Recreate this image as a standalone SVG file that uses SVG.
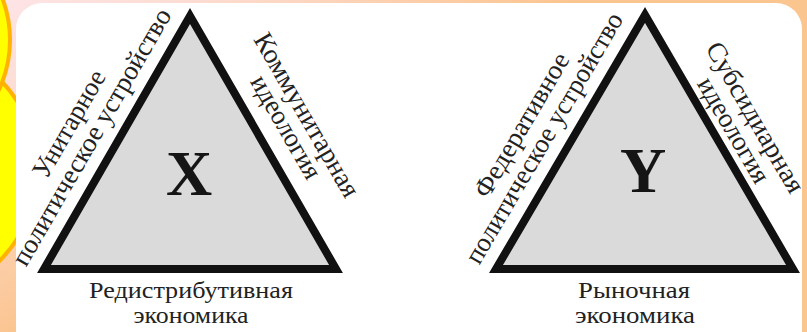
<svg xmlns="http://www.w3.org/2000/svg" width="807" height="332" viewBox="0 0 807 332">
<defs>
<linearGradient id="bg" gradientUnits="userSpaceOnUse" x1="0" y1="0" x2="150" y2="250">
<stop offset="0" stop-color="#fde4e6"/>
<stop offset="0.35" stop-color="#fcdcd2"/>
<stop offset="1" stop-color="#fbc590"/>
</linearGradient>
<style>
.tri{fill:#dadada;stroke:#111;stroke-width:8;stroke-linejoin:miter}
.lbl{font-family:"Liberation Serif","DejaVu Serif",serif;font-size:27px;fill:#222;text-anchor:middle}
.bot{font-family:"Liberation Serif","DejaVu Serif",serif;font-size:22.5px;fill:#222;text-anchor:middle}
.big{font-family:"Liberation Serif","DejaVu Serif",serif;font-size:64px;font-weight:bold;fill:#151515;text-anchor:middle}
.blob{fill:#ffff00;stroke:#ffb300;stroke-width:4}
</style>
</defs>
<rect width="807" height="332" fill="url(#bg)"/>
<circle class="blob" cx="-92" cy="170" r="129"/>
<circle class="blob" cx="-108" cy="40" r="118"/>
<rect x="16" y="3" width="786" height="360" rx="26" fill="#ffffff"/>
<g id="triangle-x">
<polygon class="tri" points="44,269 190,16 336,269"/>
<text class="big" x="189" y="195">X</text>
<text class="lbl" transform="translate(99.1,141.4) rotate(-60)" textLength="292" lengthAdjust="spacingAndGlyphs">политическое устройство</text>
<text class="lbl" transform="translate(76.6,128.4) rotate(-60)" textLength="120" lengthAdjust="spacingAndGlyphs">Унитарное</text>
<text class="lbl" transform="translate(278.5,131.3) rotate(60)" textLength="115" lengthAdjust="spacingAndGlyphs">идеология</text>
<text class="lbl" transform="translate(299.2,119.3) rotate(60)" textLength="185" lengthAdjust="spacingAndGlyphs">Коммунитарная</text>
<text class="bot" x="191" y="298" textLength="204" lengthAdjust="spacingAndGlyphs">Редистрибутивная</text>
<text class="bot" x="191" y="323" textLength="115" lengthAdjust="spacingAndGlyphs">экономика</text>
</g>
<g id="triangle-y">
<polygon class="tri" points="496,269 645,15 793,269"/>
<text class="big" x="643" y="192">Y</text>
<text class="lbl" transform="translate(551.6,142.5) rotate(-59.6)" textLength="286" lengthAdjust="spacingAndGlyphs">политическое устройство</text>
<text class="lbl" transform="translate(529.2,129.4) rotate(-59.6)" textLength="163" lengthAdjust="spacingAndGlyphs">Федеративное</text>
<text class="lbl" transform="translate(726.1,134.4) rotate(59.8)" textLength="118" lengthAdjust="spacingAndGlyphs">идеология</text>
<text class="lbl" transform="translate(747.7,121.8) rotate(59.8)" textLength="170" lengthAdjust="spacingAndGlyphs">Субсидиарная</text>
<text class="bot" x="634" y="298" textLength="112" lengthAdjust="spacingAndGlyphs">Рыночная</text>
<text class="bot" x="635" y="323" textLength="120" lengthAdjust="spacingAndGlyphs">экономика</text>
</g>
<g id="connectors"/>
</svg>
